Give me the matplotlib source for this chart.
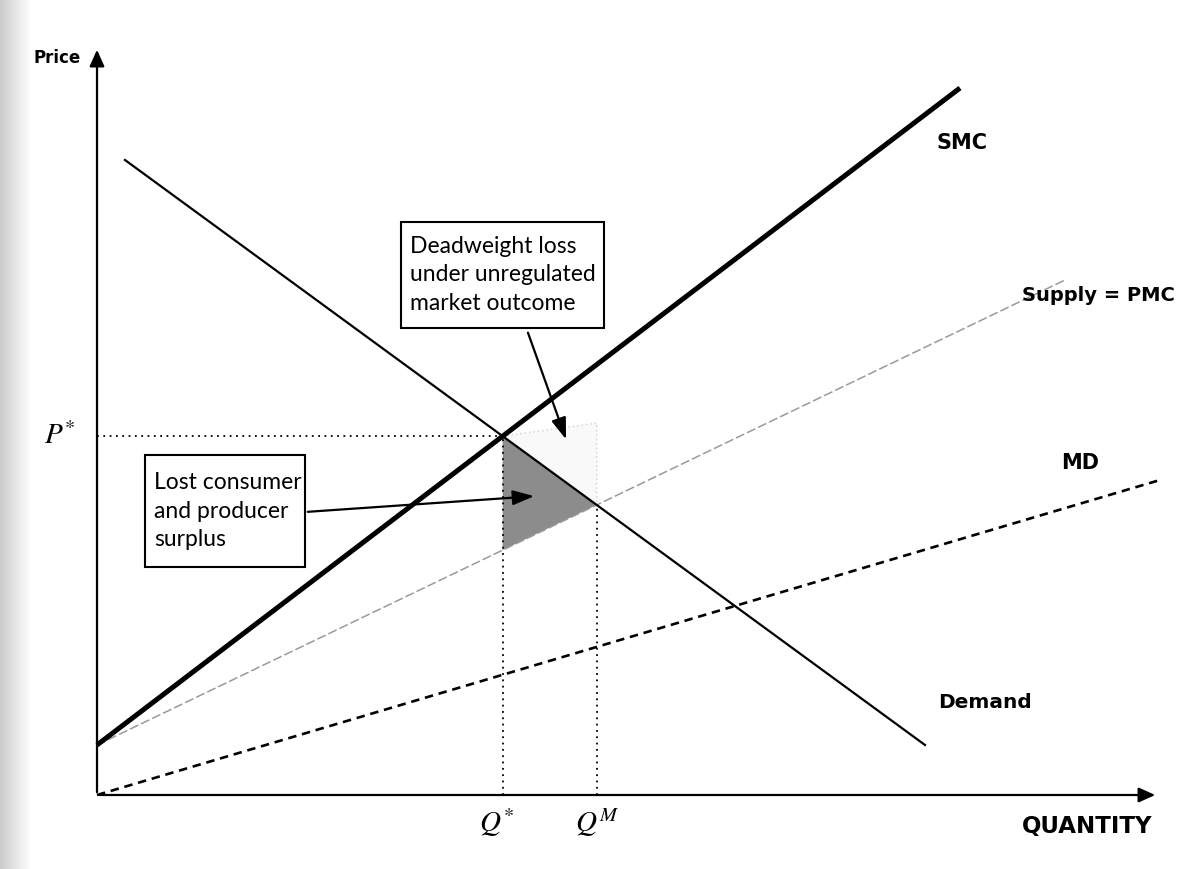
import matplotlib
matplotlib.use("Agg")
import matplotlib.pyplot as plt
import numpy as np
from matplotlib.patches import Polygon, Rectangle

# ---- data (Q, P) endpoints of each curve ----
smc_q = [0.0, 8.63]
smc_p = [0.50, 7.07]
pmc_q = [0.0, 9.68]
pmc_p = [0.50, 5.15]
md_q = [0.0, 10.63]
md_p = [0.0, 3.15]
dem_q = [0.28, 8.28]
dem_p = [6.35, 0.50]

curve_labels = ["SMC", "Supply = PMC", "MD", "Demand"]
box1_text = "Deadweight loss\nunder unregulated\nmarket outcome"
box2_text = "Lost consumer\nand producer\nsurplus"


def line_params(q, p):
    m = (p[1] - p[0]) / (q[1] - q[0])
    return m, p[0] - m * q[0]


def intersect(a, b):
    m1, c1 = a
    m2, c2 = b
    x = (c2 - c1) / (m1 - m2)
    return x, m1 * x + c1


smc = line_params(smc_q, smc_p)
pmc = line_params(pmc_q, pmc_p)
dem = line_params(dem_q, dem_p)
q_star, p_star = intersect(smc, dem)
q_m, p_m = intersect(pmc, dem)

plt.rcParams["mathtext.fontset"] = "stix"
fig = plt.figure(figsize=(11.88, 8.69), dpi=100)
ax = fig.add_axes([0, 0, 1, 1])

# scanned-page gray strip at left edge
grad = np.linspace(0.80, 1.0, 50).reshape(1, -1)
ax.imshow(grad, extent=(-0.97, -0.65, -0.74, 7.95), cmap="gray", vmin=0, vmax=1,
          aspect="auto", zorder=0)
ax.set_xlim(-0.97, 10.91)
ax.set_ylim(-0.74, 7.95)
ax.axis("off")

# axes with arrows
ax.annotate("", xy=(0, 7.48), xytext=(0, 0),
            arrowprops=dict(arrowstyle="-|>,head_length=1.0,head_width=0.45", color="black", lw=1.6))
ax.annotate("", xy=(10.61, 0), xytext=(0, 0),
            arrowprops=dict(arrowstyle="-|>,head_length=1.0,head_width=0.45", color="black", lw=1.6))

# faint deadweight loss area
dwl = Polygon([(q_star, p_star), (q_m, p_star + 0.13), (q_m, p_m)], closed=True,
              facecolor="#f9f9f9", edgecolor="#dadada", lw=1.2, ls=":", zorder=1)
ax.add_patch(dwl)

# dark triangle: lost surplus
pmc_at_qstar = pmc[0] * q_star + pmc[1]
tri = Polygon([(q_star, p_star), (q_star, pmc_at_qstar), (q_m, p_m)], closed=True,
              facecolor="#8c8c8c", edgecolor="none", zorder=2)
ax.add_patch(tri)

# curves
ax.plot(pmc_q, pmc_p, color="#9a9a9a", lw=1.1, ls=(0, (6, 2)), zorder=3)
ax.plot(md_q, md_p, color="black", lw=1.9, ls=(0, (3.2, 2.2)), zorder=3)
ax.plot(dem_q, dem_p, color="black", lw=1.6, zorder=4)
ax.plot(smc_q, smc_p, color="black", lw=3.6, solid_capstyle="butt", zorder=4)

# dotted guides
ax.plot([0, q_star], [p_star, p_star], color="black", lw=1.3, ls=(0, (1, 2.5)), zorder=3)
ax.plot([q_star, q_star], [0, p_star], color="black", lw=1.3, ls=(0, (1, 2.5)), zorder=3)
ax.plot([q_m, q_m], [0, p_m], color="black", lw=1.3, ls=(0, (1, 2.5)), zorder=3)

# labels
bold = dict(fontweight="bold", family="DejaVu Sans", color="black")
ax.text(-0.40, 7.37, "Price", fontsize=12, ha="center", va="center", **bold)
ax.text(8.65, 6.52, curve_labels[0], fontsize=15, ha="center", va="center", **bold)
ax.text(10.01, 4.99, curve_labels[1], fontsize=14, ha="center", va="center", **bold)
ax.text(9.83, 3.32, curve_labels[2], fontsize=15, ha="center", va="center", **bold)
ax.text(8.88, 0.92, curve_labels[3], fontsize=14.5, ha="center", va="center", **bold)
ax.text(9.90, -0.32, "QUANTITY", fontsize=16.5, ha="center", va="center", **bold)

ax.text(-0.37, p_star, r"$P^{*}$", fontsize=21, ha="center", va="center")
ax.text(q_star - 0.06, -0.28, r"$Q^{*}$", fontsize=21, ha="center", va="center")
ax.text(q_m, -0.28, r"$Q^{M}$", fontsize=21, ha="center", va="center")

# annotation boxes
boxfont = ["Lato", "DejaVu Sans"]
ax.add_patch(Rectangle((3.04, 4.67), 2.03, 1.06, facecolor="white", edgecolor="black", lw=1.5, zorder=5))
ax.text(3.13, 5.20, box1_text, fontsize=16.5, family=boxfont, ha="left", va="center",
        linespacing=1.45, zorder=6)
ax.add_patch(Rectangle((0.48, 2.28), 1.60, 1.12, facecolor="white", edgecolor="black", lw=1.5, zorder=5))
ax.text(0.57, 2.84, box2_text, fontsize=16.5, family=boxfont, ha="left", va="center",
        linespacing=1.45, zorder=6)

ax.annotate("", xy=(4.70, 3.53), xytext=(4.30, 4.65),
            arrowprops=dict(arrowstyle="-|>,head_length=1.3,head_width=0.45", color="black", lw=1.6),
            zorder=7)
ax.annotate("", xy=(4.40, 2.99), xytext=(2.08, 2.83),
            arrowprops=dict(arrowstyle="-|>,head_length=1.3,head_width=0.45", color="black", lw=1.6),
            zorder=7)

fig.savefig("out.png", dpi=100)
